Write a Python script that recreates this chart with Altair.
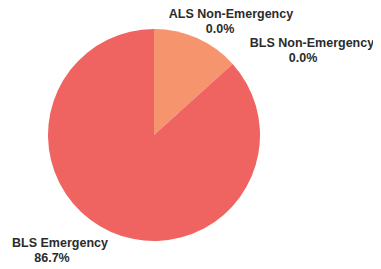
import altair as alt
import pandas as pd

categories = ["ALS Emergency", "ALS Non-Emergency", "BLS Non-Emergency", "BLS Emergency"]
shares = [13.3, 0.0, 0.0, 86.7]
slice_colors = ["#F6946E", "#F6946E", "#EF6461", "#EF6461"]

label_cats = ["ALS Non-Emergency", "BLS Non-Emergency", "BLS Emergency"]

df = pd.DataFrame({"category": categories, "share": shares, "order": range(len(categories))})

W, H = 365, 261
CX, CY, R = 146, 127, 106

pie = alt.Chart(df).mark_arc(outerRadius=R, stroke=None).encode(
    theta=alt.Theta("share:Q", stack=True),
    order=alt.Order("order:Q", sort="ascending"),
    color=alt.Color("category:N", scale=alt.Scale(domain=categories, range=slice_colors), legend=None),
    x=alt.value(CX),
    y=alt.value(CY),
)

# label layout: (name center x, name baseline y, pct center x, pct baseline y) in plot coords
label_pos = {
    "ALS Non-Emergency": (223, 10, 212, 25),
    "BLS Non-Emergency": (304, 39, 295, 54),
    "BLS Emergency": (52, 239, 44, 254),
}

style = dict(font="Liberation Sans", fontWeight="bold", fontSize=12.5,
             color="#2b2b2b", align="center", baseline="alphabetic")

layers = [pie]
for cat in label_cats:
    val = shares[categories.index(cat)]
    nx, ny, px, py = label_pos[cat]
    ldf = pd.DataFrame({"name": [cat], "pct": [f"{val:.1f}%"]})
    base = alt.Chart(ldf)
    name = base.mark_text(**style).encode(text="name:N", x=alt.value(nx), y=alt.value(ny))
    pct = base.mark_text(**style).encode(text="pct:N", x=alt.value(px), y=alt.value(py))
    layers += [name, pct]

chart = alt.layer(*layers).properties(
    width=W, height=H, autosize=alt.AutoSizeParams(type="none"), padding=0,
    background="white"
).configure_view(stroke=None)

chart.save("out.html", embed_options={"renderer": "svg", "actions": False})
